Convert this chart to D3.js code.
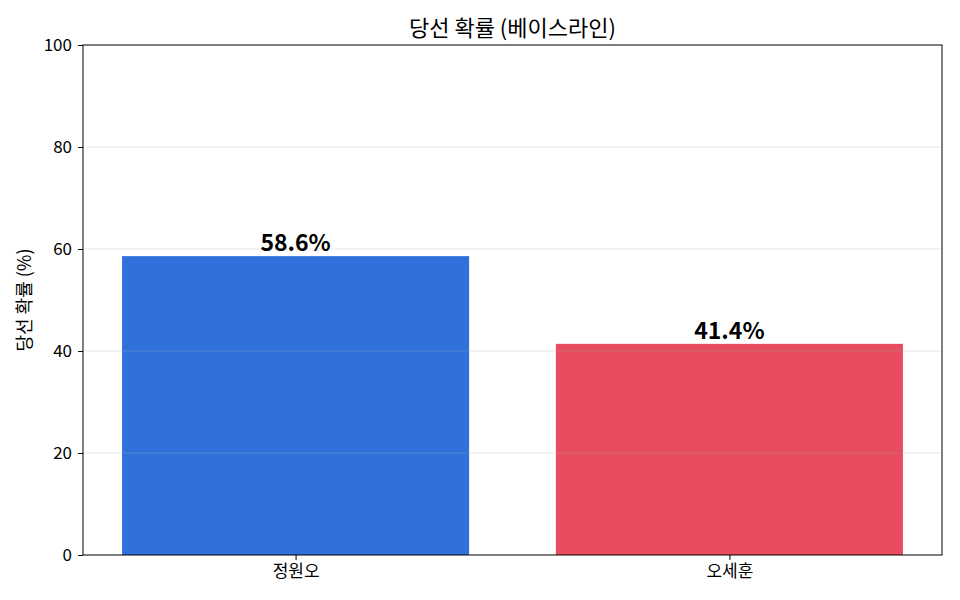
<!DOCTYPE html>
<html>
<head>
<meta charset="utf-8">
<script src="https://cdn.jsdelivr.net/npm/d3@7"></script>
<style>
  body { margin: 0; background: #fff; }
  svg text { font-family: "Noto Sans CJK KR", "Noto Sans", sans-serif; }
</style>
</head>
<body>
<script>
// data
const candidates = ["정원오", "오세훈"];
const winProb = [58.6, 41.4];
const barColors = ["#3070db", "#e74c5f"];
const yTicks = [0, 20, 40, 60, 80, 100];

const width = 960, height = 600;
const margin = { top: 45, right: 18, bottom: 45, left: 83 };
const innerW = width - margin.left - margin.right;
const innerH = height - margin.top - margin.bottom;
const FONT = "'Noto Sans CJK KR', 'Noto Sans', sans-serif";

const svg = d3.select("body").append("svg")
    .attr("width", width).attr("height", height);

const g = svg.append("g")
    .attr("transform", "translate(" + margin.left + "," + margin.top + ")");

// matplotlib-ish: positions 0,1 with bar width 0.8
const x = d3.scaleLinear().domain([-0.49, 1.49]).range([0, innerW]);
const y = d3.scaleLinear().domain([0, 100]).range([innerH, 0]);

// bars
g.selectAll("rect.bar")
    .data(winProb)
    .enter().append("rect")
    .attr("class", "bar")
    .attr("x", (d, i) => x(i - 0.4))
    .attr("width", (d, i) => x(i + 0.4) - x(i - 0.4))
    .attr("y", d => y(d))
    .attr("height", d => innerH - y(d))
    .attr("fill", (d, i) => barColors[i]);

// grid on top of the bars, faint
g.selectAll("line.grid")
    .data(yTicks.filter(t => t > 0 && t < 100))
    .enter().append("line")
    .attr("class", "grid")
    .attr("x1", 0).attr("x2", innerW)
    .attr("y1", d => y(d)).attr("y2", d => y(d))
    .attr("stroke", "#b0b0b0")
    .attr("stroke-opacity", 0.3)
    .attr("stroke-width", 1);

// value labels
g.selectAll("text.val")
    .data(winProb)
    .enter().append("text")
    .attr("class", "val")
    .attr("x", (d, i) => x(i))
    .attr("y", d => y(d) - 5)
    .attr("text-anchor", "middle")
    .style("font-family", FONT)
    .style("font-size", "23px")
    .style("font-weight", "bold")
    .text(d => d.toFixed(1) + "%");

// axes
const yAxis = g.append("g")
    .call(d3.axisLeft(y).tickValues(yTicks).tickSize(5).tickPadding(6));
const xAxis = g.append("g")
    .attr("transform", "translate(0," + innerH + ")")
    .call(d3.axisBottom(x).tickValues([0, 1]).tickFormat((d, i) => candidates[i]).tickSize(5).tickPadding(5));

[yAxis, xAxis].forEach(a => {
    a.attr("font-family", null).attr("font-size", null);
    a.select(".domain").remove();
    a.selectAll("text").style("font-size", "17px").attr("fill", "#000")
        .style("font-family", FONT);
    a.selectAll("line").attr("stroke", "#000");
});

// frame
g.append("rect")
    .attr("width", innerW).attr("height", innerH)
    .attr("fill", "none").attr("stroke", "#000").attr("stroke-width", 1);

// title
svg.append("text")
    .attr("x", margin.left + innerW / 2)
    .attr("y", 36)
    .attr("text-anchor", "middle")
    .style("font-family", FONT)
    .style("font-size", "22px")
    .text("당선 확률 (베이스라인)");

// y label
svg.append("text")
    .attr("transform", "translate(31," + (margin.top + innerH / 2) + ") rotate(-90)")
    .attr("text-anchor", "middle")
    .style("font-family", FONT)
    .style("font-size", "18px")
    .text("당선 확률 (%)");
</script>
</body>
</html>
